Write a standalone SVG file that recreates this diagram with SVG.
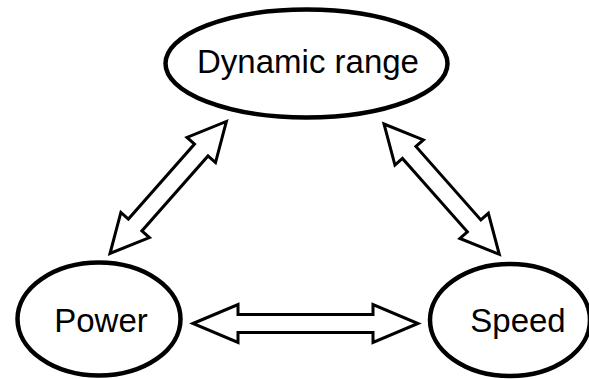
<svg xmlns="http://www.w3.org/2000/svg" width="589" height="379" viewBox="0 0 589 379">
  <style>
    .node ellipse { fill: #ffffff; stroke: #000000; stroke-width: 4.5; }
    .node text { font-family: "Liberation Sans", Arial, sans-serif; font-size: 33px; fill: #000000; text-anchor: middle; }
    .arrow { fill: #ffffff; stroke: #000000; stroke-width: 3; stroke-linejoin: miter; }
  </style>
  <rect width="589" height="379" fill="#ffffff"/>

  <g id="connectors">
    <!-- Dynamic range <-> Power -->
    <path class="arrow" transform="translate(110,253.5) rotate(-48.6)"
          d="M0,0 L38,-19 L38,-9 L138,-9 L138,-19 L176,0 L138,19 L138,9 L38,9 L38,19 Z"/>
    <!-- Dynamic range <-> Speed -->
    <path class="arrow" transform="translate(384,124) rotate(48.5)"
          d="M0,0 L38,-19 L38,-9 L136,-9 L136,-19 L174,0 L136,19 L136,9 L38,9 L38,19 Z"/>
    <!-- Power <-> Speed -->
    <path class="arrow" transform="translate(193,323.5)"
          d="M0,0 L45,-19 L45,-9 L180,-9 L180,-19 L225,0 L180,19 L180,9 L45,9 L45,19 Z"/>
  </g>

  <g id="node-dynamic-range" class="node">
    <ellipse cx="306.5" cy="63.5" rx="141" ry="54"/>
    <text x="308" y="73">Dynamic range</text>
  </g>

  <g id="node-power" class="node">
    <ellipse cx="99" cy="319" rx="81.5" ry="56.5"/>
    <text x="101" y="332">Power</text>
  </g>

  <g id="node-speed" class="node">
    <ellipse cx="510" cy="320" rx="80" ry="56"/>
    <text x="518" y="332">Speed</text>
  </g>
</svg>
